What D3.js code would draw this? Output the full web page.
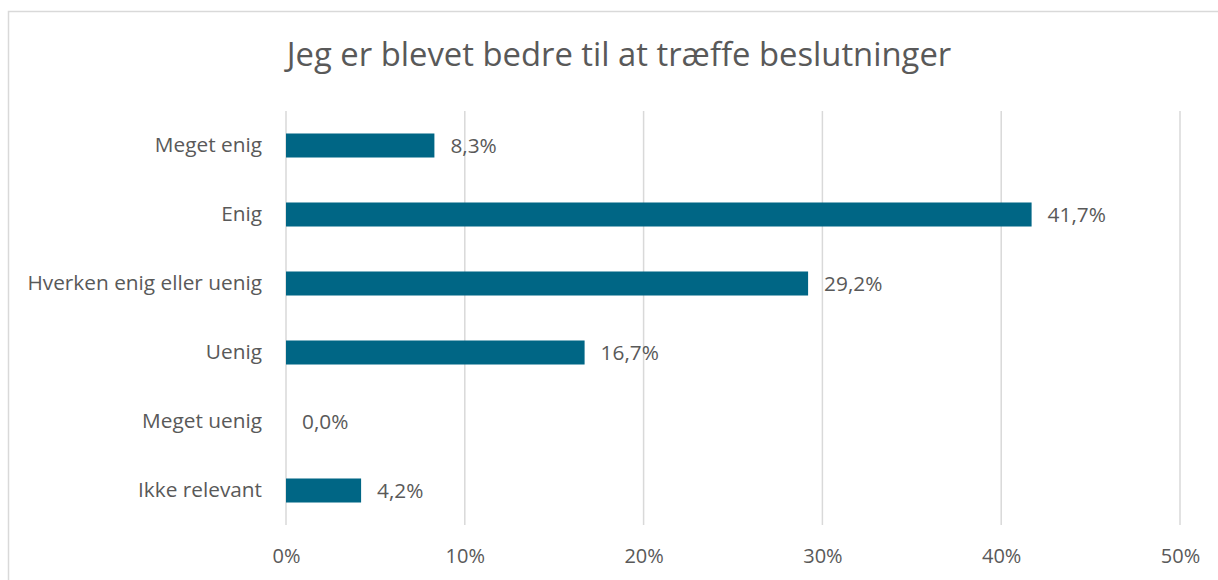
<!DOCTYPE html>
<html>
<head>
<meta charset="utf-8">
<script src="https://cdn.jsdelivr.net/npm/d3@7"></script>
<style>
  html, body { margin: 0; padding: 0; background: #fff; }
  svg { display: block; }
  text { font-family: "Open Sans", sans-serif; fill: #595959; }
</style>
</head>
<body>
<svg id="chart" width="1218" height="580"></svg>
<script>
const title = "Jeg er blevet bedre til at træffe beslutninger";
const categories = ["Meget enig", "Enig", "Hverken enig eller uenig", "Uenig", "Meget uenig", "Ikke relevant"];
const values = [8.3, 41.7, 29.2, 16.7, 0.0, 4.2];
const tickValues = [0, 10, 20, 30, 40, 50];

const svg = d3.select("#chart");
const W = 1218, H = 580;
const plot = { left: 286, right: 1180, top: 111, bottom: 525 };

// chart border
svg.append("rect")
  .attr("x", 8.5).attr("y", 11.5)
  .attr("width", W + 20).attr("height", H + 20)
  .attr("fill", "none").attr("stroke", "#d9d9d9").attr("stroke-width", 1.5);

const x = d3.scaleLinear().domain([0, 50]).range([plot.left, plot.right]);
const y = d3.scaleBand().domain(categories).range([plot.top, plot.bottom])
  .paddingInner(0.652).paddingOuter(0.326);

// gridlines
svg.append("g").selectAll("line").data(tickValues).join("line")
  .attr("x1", d => x(d)).attr("x2", d => x(d))
  .attr("y1", plot.top).attr("y2", plot.bottom)
  .attr("stroke", "#d9d9d9").attr("stroke-width", 1.5);

// x axis labels
const xAxis = d3.axisBottom(x).tickValues(tickValues).tickSize(0).tickPadding(0)
  .tickFormat(d => d + "%");
const gx = svg.append("g").attr("transform", `translate(0, ${plot.bottom + 24})`).call(xAxis);
gx.select(".domain").remove();
gx.selectAll("text").style("font-family", '"Open Sans", sans-serif')
  .style("font-size", "20px").attr("fill", "#595959");

// y axis labels
const yAxis = d3.axisLeft(y).tickSize(0).tickPadding(24);
const gy = svg.append("g").attr("transform", `translate(${plot.left}, 0)`).call(yAxis);
gy.select(".domain").remove();
gy.selectAll("text").style("font-family", '"Open Sans", sans-serif')
  .style("font-size", "20.8px").attr("fill", "#595959");

// bars
svg.append("g").selectAll("rect").data(values).join("rect")
  .attr("x", x(0))
  .attr("y", (d, i) => y(categories[i]))
  .attr("width", d => x(d) - x(0))
  .attr("height", y.bandwidth())
  .attr("fill", "#006685");

// value labels
svg.append("g").selectAll("text").data(values).join("text")
  .attr("x", d => x(d) + 16)
  .attr("y", (d, i) => y(categories[i]) + y.bandwidth() / 2)
  .attr("dy", "0.35em")
  .style("font-size", "20.8px")
  .text(d => d.toFixed(1).replace(".", ",") + "%");

// title
svg.append("text")
  .attr("x", 619).attr("y", 66)
  .attr("text-anchor", "middle")
  .style("font-size", "32.8px")
  .text(title);
</script>
</body>
</html>
